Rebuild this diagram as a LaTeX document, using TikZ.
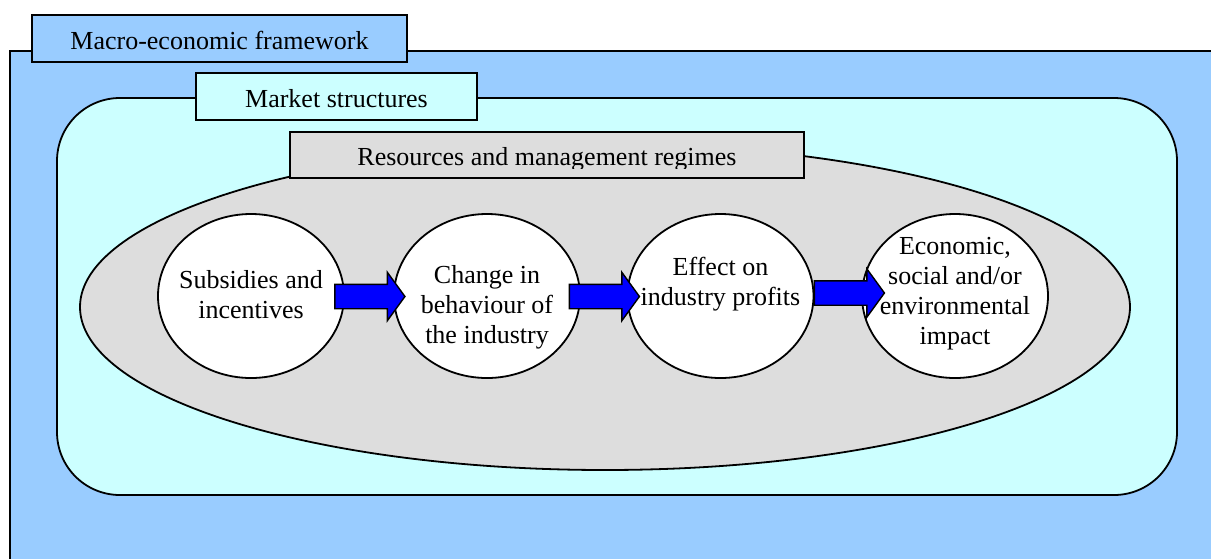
\documentclass[tikz,border=0pt]{standalone}
\usepackage{fontspec}
\setmainfont{Liberation Serif}
\usepackage{tikz}
\usetikzlibrary{shapes.geometric, shapes.arrows}

\definecolor{macroblue}{HTML}{99CCFF}
\definecolor{marketcyan}{HTML}{CCFFFF}
\definecolor{regimegray}{HTML}{DDDDDD}
\definecolor{arrowblue}{HTML}{0000FF}

\begin{document}
\begin{tikzpicture}[x=0.5pt, y=-0.5pt,
    every node/.style={font=\fontsize{13}{15}\selectfont},
    tab/.style={draw, rectangle, line width=0.9pt, minimum height=23.5pt, text height=12pt, text depth=1.2pt},
    bubble/.style={draw, ellipse, fill=white, line width=0.9pt, minimum width=93pt, minimum height=82pt, inner sep=0pt},
    bubbletext/.style={align=center, inner sep=0pt},
    flowarrow/.style={draw, single arrow, fill=arrowblue, line width=0.7pt, minimum height=35pt, inner sep=5.75pt, single arrow head extend=6pt, single arrow tip angle=108}]
    \useasboundingbox (0, 0) rectangle (1211, 558);

    % frames: macro, market
    \draw[fill=macroblue, line width=0.65pt] (10, 51) rectangle (1240, 600);
    \node[tab, fill=macroblue, minimum width=187.5pt] (macro) at (219.5, 38.5) {Macro-economic framework};
    \draw[fill=marketcyan, line width=0.9pt, rounded corners=31.5pt] (57, 98) rectangle (1177, 495);
    \node[tab, fill=marketcyan, minimum width=140.5pt] (market) at (336.5, 96.5) {Market structures};

    % regimes ellipse and its tab
    \node[draw, ellipse, fill=regimegray, line width=0.9pt, minimum width=525pt, minimum height=163pt, inner sep=0pt] (regimes) at (605, 307) {};
    \node[tab, fill=regimegray, minimum width=257pt, minimum height=23pt] (restab) at (547, 155) {};
    \begin{scope}
        \clip (restab.north west) rectangle ([yshift=-6.5pt]restab.east);
        \node[text height=12pt, text depth=1.2pt] (restext) at (restab) {Resources and management regimes};
    \end{scope}

    % nodes: subsidies change profits impact
    \node[bubble] (subsidies) at (251, 296) {};
    \node[bubble] (change) at (487, 296) {};
    \node[bubble] (profits) at (720.5, 296) {};
    \node[bubble] (impact) at (955, 296) {};
    \node[bubbletext] (subsidies-t) at (251, 295) {Subsidies and\\incentives};
    \node[bubbletext] (change-t) at (487, 307) {Change in\\behaviour of\\the industry};
    \node[bubbletext] (profits-t) at (720.5, 284) {Effect on\\industry profits};
    \node[bubbletext] (impact-t) at (955, 294) {Economic,\\social and/or\\environmental\\impact};

    % arrows: subsidies-change, change-profits, profits-impact
    \node[flowarrow] (a1) at (365.5, 296.5) {};
    \node[flowarrow] (a2) at (600, 296.5) {};
    \node[flowarrow] (a3) at (845, 293) {};
\end{tikzpicture}
\end{document}
